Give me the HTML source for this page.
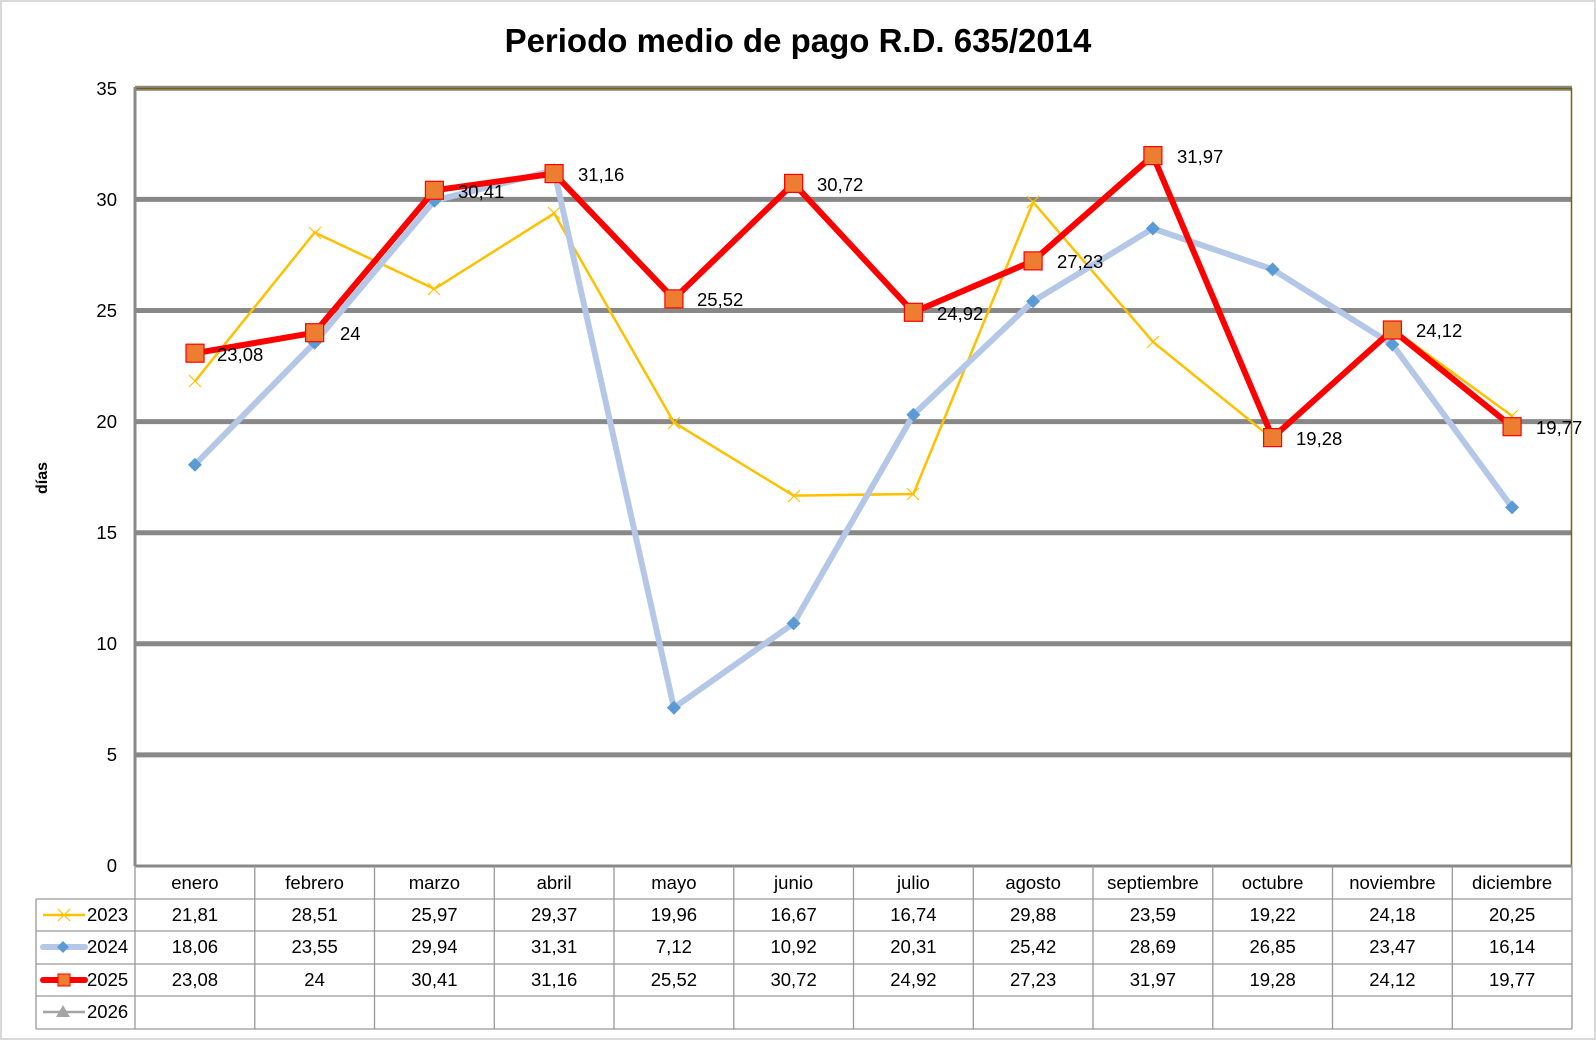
<!DOCTYPE html>
<html><head><meta charset="utf-8"><style>
body{margin:0;background:#fff}
svg{display:block;font-family:"Liberation Sans",Calibri,sans-serif}
</style></head><body>
<svg width="1596" height="1041" viewBox="0 0 1596 1041" xmlns="http://www.w3.org/2000/svg">
<rect x="1" y="1" width="1594" height="1038" fill="#fff" stroke="#d9d9d9" stroke-width="2"/>
<text x="798" y="52" text-anchor="middle" font-size="33" font-weight="bold">Periodo medio de pago R.D. 635/2014</text>
<g stroke="#888" stroke-width="5">
<line x1="135" y1="754.9" x2="1572" y2="754.9"/>
<line x1="135" y1="643.8" x2="1572" y2="643.8"/>
<line x1="135" y1="532.7" x2="1572" y2="532.7"/>
<line x1="135" y1="421.6" x2="1572" y2="421.6"/>
<line x1="135" y1="310.5" x2="1572" y2="310.5"/>
<line x1="135" y1="199.4" x2="1572" y2="199.4"/>
<line x1="135" y1="88.3" x2="1572" y2="88.3"/>
</g>
<line x1="135" y1="88.5" x2="1572" y2="88.5" stroke="#7f6000" stroke-width="1.5"/>
<line x1="1571.5" y1="88" x2="1571.5" y2="866" stroke="#7f6000" stroke-width="1.5"/>
<line x1="135" y1="866" x2="1572" y2="866" stroke="#888" stroke-width="3"/>
<line x1="135" y1="87" x2="135" y2="866" stroke="#888" stroke-width="3"/>
<g font-size="18.5" text-anchor="end" fill="#000">
<text x="117" y="872">0</text><text x="117" y="761">5</text><text x="117" y="650">10</text><text x="117" y="539">15</text><text x="117" y="428">20</text><text x="117" y="317">25</text><text x="117" y="206">30</text><text x="117" y="95">35</text>
</g>
<text transform="translate(47,478) rotate(-90)" text-anchor="middle" font-size="16" font-weight="bold">días</text>
<polyline fill="none" stroke="#ffc000" stroke-width="2.5" points="194.9,381.4 314.6,232.5 434.4,288.9 554.1,213.4 673.9,422.5 793.6,495.6 913.4,494.0 1033.1,202.1 1152.9,341.8 1272.6,438.9 1392.4,328.7 1512.1,416.0"/>
<g stroke="#ffc000" stroke-width="1.2">
<path d="M189,375l12,12M189,387l12,-12M309,227l12,12M309,239l12,-12M428,283l12,12M428,295l12,-12M548,207l12,12M548,219l12,-12M668,417l12,12M668,429l12,-12M788,490l12,12M788,502l12,-12M907,488l12,12M907,500l12,-12M1027,196l12,12M1027,208l12,-12M1147,336l12,12M1147,348l12,-12M1267,433l12,12M1267,445l12,-12M1386,323l12,12M1386,335l12,-12M1506,410l12,12M1506,422l12,-12"/>
</g>
<polyline fill="none" stroke="#b4c7e7" stroke-width="6" stroke-linejoin="round" points="194.9,464.7 314.6,342.7 434.4,200.7 554.1,170.3 673.9,707.8 793.6,623.4 913.4,414.7 1033.1,301.2 1152.9,228.5 1272.6,269.4 1392.4,344.5 1512.1,507.4"/>
<g fill="#5b9bd5">
<path d="M194.9,457.7l7,7l-7,7l-7,-7z"/><path d="M314.6,335.7l7,7l-7,7l-7,-7z"/><path d="M434.4,193.7l7,7l-7,7l-7,-7z"/><path d="M554.1,163.3l7,7l-7,7l-7,-7z"/><path d="M673.9,700.8l7,7l-7,7l-7,-7z"/><path d="M793.6,616.4l7,7l-7,7l-7,-7z"/><path d="M913.4,407.7l7,7l-7,7l-7,-7z"/><path d="M1033.1,294.2l7,7l-7,7l-7,-7z"/><path d="M1152.9,221.5l7,7l-7,7l-7,-7z"/><path d="M1272.6,262.4l7,7l-7,7l-7,-7z"/><path d="M1392.4,337.5l7,7l-7,7l-7,-7z"/><path d="M1512.1,500.4l7,7l-7,7l-7,-7z"/>
</g>
<polyline fill="none" stroke="#ff0000" stroke-width="6" stroke-linejoin="round" points="194.9,353.2 314.6,332.7 434.4,190.3 554.1,173.6 673.9,298.9 793.6,183.4 913.4,312.3 1033.1,260.9 1152.9,155.6 1272.6,437.6 1392.4,330.0 1512.1,426.7"/>
<g fill="#ed7d31" stroke="#ff0000" stroke-width="1.2">
<rect x="186" y="344.2" width="18" height="18"/><rect x="305.6" y="323.7" width="18" height="18"/><rect x="425.4" y="181.3" width="18" height="18"/><rect x="545.1" y="164.6" width="18" height="18"/><rect x="664.9" y="289.9" width="18" height="18"/><rect x="784.6" y="174.4" width="18" height="18"/><rect x="904.4" y="303.3" width="18" height="18"/><rect x="1024.1" y="251.9" width="18" height="18"/><rect x="1143.9" y="146.6" width="18" height="18"/><rect x="1263.6" y="428.6" width="18" height="18"/><rect x="1383.4" y="321" width="18" height="18"/><rect x="1503.1" y="417.7" width="18" height="18"/>
</g>
<g font-size="18.5" fill="#000">
<text x="217" y="361">23,08</text><text x="340" y="340">24</text><text x="458" y="198">30,41</text><text x="578" y="181">31,16</text><text x="697" y="306">25,52</text><text x="817" y="191">30,72</text><text x="937" y="320">24,92</text><text x="1057" y="268">27,23</text><text x="1177" y="163">31,97</text><text x="1296" y="445">19,28</text><text x="1416" y="337">24,12</text><text x="1536" y="434">19,77</text>
</g>
<g stroke="#999" stroke-width="1.3" fill="none">
<line x1="135" y1="866" x2="135" y2="1029"/>
<line x1="36" y1="899" x2="1572" y2="899"/><line x1="36" y1="931" x2="1572" y2="931"/><line x1="36" y1="964" x2="1572" y2="964"/><line x1="36" y1="996" x2="1572" y2="996"/><line x1="36" y1="1029" x2="1572" y2="1029"/>
<line x1="36" y1="899" x2="36" y2="1029"/><line x1="1572" y1="866" x2="1572" y2="1029"/>
<line x1="254.8" y1="866" x2="254.8" y2="1029"/><line x1="374.5" y1="866" x2="374.5" y2="1029"/><line x1="494.3" y1="866" x2="494.3" y2="1029"/><line x1="614" y1="866" x2="614" y2="1029"/><line x1="733.8" y1="866" x2="733.8" y2="1029"/><line x1="853.5" y1="866" x2="853.5" y2="1029"/><line x1="973.3" y1="866" x2="973.3" y2="1029"/><line x1="1093" y1="866" x2="1093" y2="1029"/><line x1="1212.8" y1="866" x2="1212.8" y2="1029"/><line x1="1332.5" y1="866" x2="1332.5" y2="1029"/><line x1="1452.3" y1="866" x2="1452.3" y2="1029"/>
</g>
<g font-size="18.5" fill="#000" text-anchor="middle">
<text x="194.9" y="889">enero</text><text x="314.6" y="889">febrero</text><text x="434.4" y="889">marzo</text><text x="554.1" y="889">abril</text><text x="673.9" y="889">mayo</text><text x="793.6" y="889">junio</text><text x="913.4" y="889">julio</text><text x="1033.1" y="889">agosto</text><text x="1152.9" y="889">septiembre</text><text x="1272.6" y="889">octubre</text><text x="1392.4" y="889">noviembre</text><text x="1512.1" y="889">diciembre</text>
<text x="194.9" y="921">21,81</text><text x="314.6" y="921">28,51</text><text x="434.4" y="921">25,97</text><text x="554.1" y="921">29,37</text><text x="673.9" y="921">19,96</text><text x="793.6" y="921">16,67</text><text x="913.4" y="921">16,74</text><text x="1033.1" y="921">29,88</text><text x="1152.9" y="921">23,59</text><text x="1272.6" y="921">19,22</text><text x="1392.4" y="921">24,18</text><text x="1512.1" y="921">20,25</text>
<text x="194.9" y="953">18,06</text><text x="314.6" y="953">23,55</text><text x="434.4" y="953">29,94</text><text x="554.1" y="953">31,31</text><text x="673.9" y="953">7,12</text><text x="793.6" y="953">10,92</text><text x="913.4" y="953">20,31</text><text x="1033.1" y="953">25,42</text><text x="1152.9" y="953">28,69</text><text x="1272.6" y="953">26,85</text><text x="1392.4" y="953">23,47</text><text x="1512.1" y="953">16,14</text>
<text x="194.9" y="986">23,08</text><text x="314.6" y="986">24</text><text x="434.4" y="986">30,41</text><text x="554.1" y="986">31,16</text><text x="673.9" y="986">25,52</text><text x="793.6" y="986">30,72</text><text x="913.4" y="986">24,92</text><text x="1033.1" y="986">27,23</text><text x="1152.9" y="986">31,97</text><text x="1272.6" y="986">19,28</text><text x="1392.4" y="986">24,12</text><text x="1512.1" y="986">19,77</text>
</g>
<g font-size="18.5" fill="#000">
<text x="87" y="921">2023</text><text x="87" y="953">2024</text><text x="87" y="986">2025</text><text x="87" y="1018">2026</text>
</g>
<line x1="43" y1="915" x2="85" y2="915" stroke="#ffc000" stroke-width="2.5"/>
<path d="M58,909l12,12M58,921l12,-12" stroke="#ffc000" stroke-width="1.2"/>
<line x1="43" y1="947" x2="85" y2="947" stroke="#b4c7e7" stroke-width="6" stroke-linecap="round"/>
<path d="M63,941l6,6l-6,6l-6,-6z" fill="#5b9bd5"/>
<line x1="43" y1="980" x2="85" y2="980" stroke="#ff0000" stroke-width="6" stroke-linecap="round"/>
<rect x="58" y="974" width="12" height="12" fill="#ed7d31" stroke="#ff0000"/>
<line x1="43" y1="1012" x2="85" y2="1012" stroke="#a5a5a5" stroke-width="2.5"/>
<path d="M63,1005l7,12h-14z" fill="#a5a5a5"/>
</svg>
</body></html>
